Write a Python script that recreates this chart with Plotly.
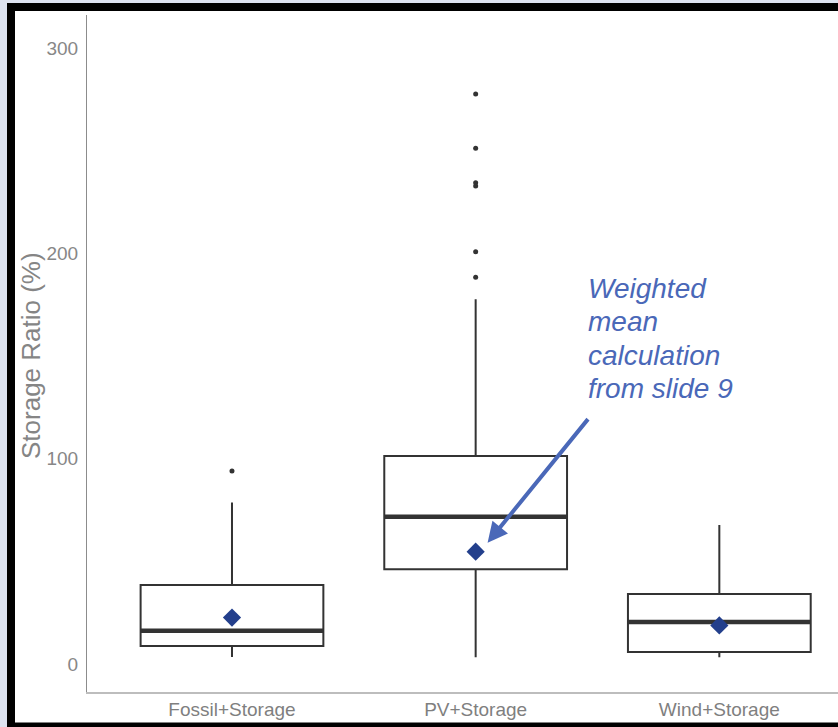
import plotly.graph_objects as go

# ---------------- data ----------------
categories = ["Fossil+Storage", "PV+Storage", "Wind+Storage"]
q1 = [8.8, 46.1, 5.8]
medians = [16.2, 71.7, 20.5]
q3 = [38.5, 101.3, 34.1]
lower_whisker = [3.4, 3.3, 3.3]
upper_whisker = [78.6, 177.6, 67.7]
weighted_means = [22.6, 54.7, 18.8]
outliers = {
    "Fossil+Storage": [94.0],
    "PV+Storage": [277.6, 251.2, 234.4, 232.8, 200.8, 188.4],
    "Wind+Storage": [],
}
y_ticks = [0, 100, 200, 300]
note_lines = ["Weighted", "mean", "calculation", "from slide 9"]

# ---------------- layout constants ----------------
FIG_W, FIG_H = 838, 727
M_L, M_R, M_T, M_B = 87, 0, 15, 35
PW = FIG_W - M_L - M_R
PH = FIG_H - M_T - M_B
BOX_W = 0.75
FONT = "Liberation Sans, Arial, sans-serif"
DARK = "#333333"


def px_x(px):
    return (px - M_L) / PW


def px_y(py):
    return (FIG_H - M_B - py) / PH


xpos = list(range(len(categories)))

fig = go.Figure()

# boxes
for i, cat in enumerate(categories):
    fig.add_trace(go.Box(
        x=[xpos[i]], q1=[q1[i]], median=[medians[i]], q3=[q3[i]],
        lowerfence=[lower_whisker[i]], upperfence=[upper_whisker[i]],
        width=BOX_W, whiskerwidth=0, boxpoints=False,
        fillcolor="white", line=dict(color=DARK, width=2),
        hoverinfo="skip", showlegend=False, name=cat,
    ))

# thick median lines
mx, my = [], []
for i in range(len(categories)):
    mx += [xpos[i] - BOX_W / 2, xpos[i] + BOX_W / 2, None]
    my += [medians[i], medians[i], None]
fig.add_trace(go.Scatter(x=mx, y=my, mode="lines",
                         line=dict(color=DARK, width=4.5),
                         hoverinfo="skip", showlegend=False))

# outliers
ox, oy = [], []
for i, cat in enumerate(categories):
    for v in outliers[cat]:
        ox.append(xpos[i])
        oy.append(v)
fig.add_trace(go.Scatter(x=ox, y=oy, mode="markers",
                         marker=dict(color=DARK, size=5),
                         hoverinfo="skip", showlegend=False))

# weighted means
fig.add_trace(go.Scatter(x=xpos, y=weighted_means, mode="markers",
                         marker=dict(symbol="diamond", color="#233f8c", size=14),
                         hoverinfo="skip", showlegend=False))

# frame (light margin, black border, white sheet)
shapes = [
    dict(type="rect", xref="paper", yref="paper", layer="below",
         x0=px_x(7), x1=px_x(FIG_W + 10), y0=px_y(FIG_H + 10), y1=px_y(3),
         fillcolor="black", line=dict(width=0)),
    dict(type="rect", xref="paper", yref="paper", layer="below",
         x0=px_x(15), x1=px_x(FIG_W + 10), y0=px_y(722.5), y1=px_y(11),
         fillcolor="white", line=dict(width=0)),
]

annotations = [
    # y axis title
    dict(text="Storage Ratio (%)", xref="paper", yref="paper",
         x=px_x(31), y=px_y(356), xanchor="center", yanchor="middle",
         textangle=-90, showarrow=False,
         font=dict(family=FONT, size=26, color="#858585")),
    # arrow
    dict(text="", x=1.049, y=59.1, xref="x", yref="y",
         ax=1.466, ay=120.0, axref="x", ayref="y",
         showarrow=True, arrowhead=2, arrowsize=1, arrowwidth=4,
         arrowcolor="#4a68b8", standoff=0),
]
line_centers_px = [288, 321.6, 355.2, 388.8]
for txt, cy in zip(note_lines, line_centers_px):
    annotations.append(dict(
        text=txt, xref="paper", yref="paper", x=px_x(586), y=px_y(cy),
        xanchor="left", yanchor="middle", showarrow=False,
        font=dict(family=FONT, size=28, color="#4a68b8", style="italic"),
    ))

fig.update_layout(
    width=FIG_W, height=FIG_H,
    margin=dict(l=M_L, r=M_R, t=M_T, b=M_B, pad=0),
    paper_bgcolor="#dde3f0", plot_bgcolor="rgba(0,0,0,0)",
    shapes=shapes, annotations=annotations, showlegend=False,
    font=dict(family=FONT),
    xaxis=dict(range=[-0.595, 2.487], tickvals=xpos, ticktext=categories,
               showgrid=False, zeroline=False, showline=True,
               linecolor="#bdbdbd", linewidth=2, ticks="",
               ticklabelstandoff=-1,
               tickfont=dict(family=FONT, size=19, color="#7f7f7f")),
    yaxis=dict(range=[-13.64, 316.1], tickvals=y_ticks,
               showgrid=False, zeroline=False, showline=True,
               linecolor="#8c8c8c", linewidth=1, ticks="",
               ticklabelstandoff=4,
               tickfont=dict(family=FONT, size=19, color="#878787")),
)

fig.write_html(
    "out.html",
    config={"displayModeBar": False},
    post_script="document.body.style.margin='0';document.body.style.overflow='hidden';",
)
